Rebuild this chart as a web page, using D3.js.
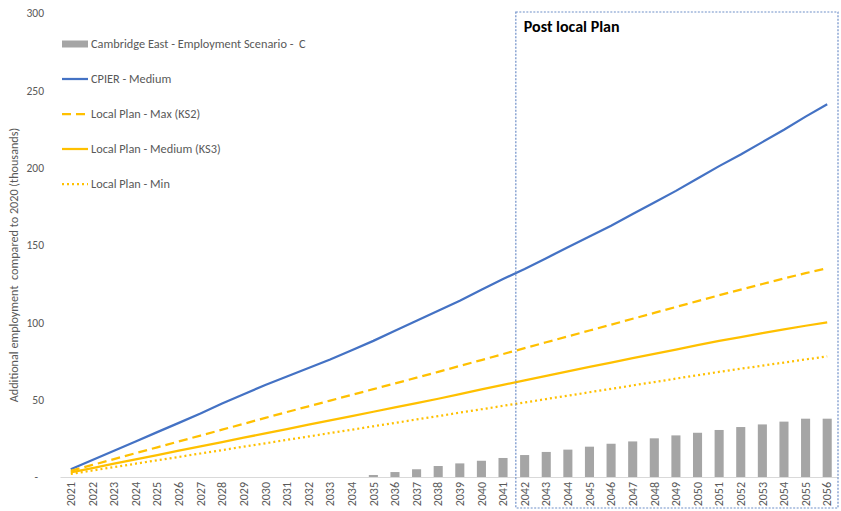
<!DOCTYPE html>
<html>
<head>
<meta charset="utf-8">
<script src="https://cdn.jsdelivr.net/npm/d3@7"></script>
<style>
  body { margin: 0; background: #fff; }
  text { font-family: Calibri, Carlito, "Liberation Sans", "Open Sans", sans-serif; white-space: pre; }
</style>
</head>
<body>
<div id="chart"></div>
<script>
// years on the x axis
const years = d3.range(2021, 2057).map(String);

// Cambridge East - Employment Scenario - C (bars)
const cambridgeEast = [0, 0, 0, 0, 0, 0, 0, 0, 0, 0, 0, 0, 0, 0,
    1.3, 3.2, 5.0, 7.1, 8.8, 10.5, 12.3, 14.2, 16.2, 17.7, 19.6, 21.5,
    23.0, 25.0, 26.9, 28.6, 30.4, 32.3, 34.0, 35.8, 37.7, 37.7];

// CPIER - Medium
const cpierMedium = [5, 11, 17, 23, 29, 35, 41, 47.5, 53.5, 59.5, 65, 70.5, 76, 82, 88, 94.5,
    101, 107.5, 114, 121, 128, 134.5, 141.5, 148.5, 155.5, 162.5, 170, 177.5, 185, 193,
    201, 208.5, 216.5, 224.5, 233, 241];

// Local Plan - Max (KS2)
const planMax = [4, 7.8, 11.6, 15.4, 19.2, 23, 26.8, 30.6, 34.4, 38.2, 42, 45.7, 49.4, 53.1,
    56.8, 60.5, 64.2, 68, 71.8, 75.6, 79.5, 83.3, 87.1, 90.9, 94.7, 98.5, 102.3, 106.1,
    109.9, 113.7, 117.5, 121.2, 124.8, 128.4, 131.8, 135];

// Local Plan - Medium (KS3)
const planMedium = [3, 5.8, 8.6, 11.4, 14.2, 17, 19.8, 22.6, 25.4, 28.2, 31, 33.8, 36.6, 39.4,
    42.2, 45, 47.8, 50.6, 53.6, 56.6, 59.6, 62.5, 65.4, 68.3, 71.2, 74, 76.8, 79.6,
    82.4, 85.2, 88, 90.5, 93, 95.4, 97.8, 100];

// Local Plan - Min
const planMin = [2, 4.2, 6.4, 8.6, 10.8, 13, 15.2, 17.4, 19.6, 21.8, 24, 26.2, 28.4, 30.6,
    32.8, 35, 37.2, 39.4, 41.6, 43.8, 46, 48.2, 50.4, 52.6, 54.8, 57, 59.2, 61.4,
    63.6, 65.8, 68, 70, 72, 74, 76, 78];

const yTicks = [0, 50, 100, 150, 200, 250, 300];

const lineSeries = [
    {name: "CPIER - Medium", values: cpierMedium, color: "#4472C4", dash: null},
    {name: "Local Plan - Max (KS2)", values: planMax, color: "#FFC000", dash: "9,5"},
    {name: "Local Plan - Medium (KS3)", values: planMedium, color: "#FFC000", dash: null},
    {name: "Local Plan - Min", values: planMin, color: "#FFC000", dash: "2,3"}
];

const width = 841, height = 511;
const margin = {top: 13, right: 3, bottom: 34, left: 60};

const svg = d3.select("#chart").append("svg")
    .attr("width", width)
    .attr("height", height);

// scales
const x = d3.scaleBand()
    .domain(years)
    .range([margin.left, width - margin.right])
    .paddingInner(0.58)
    .paddingOuter(0.29);

const y = d3.scaleLinear()
    .domain([0, 300])
    .range([height - margin.bottom, margin.top]);

// y axis labels (no line)
const yAxis = svg.append("g")
    .attr("transform", "translate(" + (margin.left - 13) + ",0)")
    .call(d3.axisLeft(y).tickValues(yTicks).tickSize(0)
        .tickFormat(d => d === 0 ? "-" : d));
yAxis.select(".domain").remove();
yAxis.selectAll("text")
    .attr("fill", "#595959")
    .style("font-size", "11.5px")
    .attr("dx", d => d === 0 ? "-6" : "0");

// y axis title
svg.append("text")
    .attr("transform", "translate(18,265) rotate(-90)")
    .attr("text-anchor", "middle")
    .attr("fill", "#595959")
    .style("font-size", "12.2px")
    .text("Additional employment  compared to 2020 (thousands)");

// bars
svg.append("g")
    .selectAll("rect")
    .data(cambridgeEast)
    .enter().append("rect")
    .attr("x", (d, i) => x(years[i]))
    .attr("y", d => y(d))
    .attr("width", x.bandwidth())
    .attr("height", d => y(0) - y(d))
    .attr("fill", "#A5A5A5");

// x axis
const xAxis = svg.append("g")
    .attr("transform", "translate(0," + y(0) + ")")
    .call(d3.axisBottom(x).tickSize(0).tickSizeOuter(0));
xAxis.select(".domain").attr("stroke", "#D9D9D9").attr("stroke-width", 1.2);
xAxis.selectAll("text")
    .attr("fill", "#595959")
    .style("font-size", "12px")
    .attr("transform", "rotate(-90)")
    .attr("text-anchor", "end")
    .attr("x", -5)
    .attr("y", 0)
    .attr("dy", "0.35em");

// lines
const line = d3.line()
    .x((d, i) => x(years[i]) + x.bandwidth() / 2)
    .y(d => y(d));

svg.append("g")
    .selectAll("path")
    .data(lineSeries)
    .enter().append("path")
    .attr("d", d => line(d.values))
    .attr("fill", "none")
    .attr("stroke", d => d.color)
    .attr("stroke-width", 2.25)
    .attr("stroke-dasharray", d => d.dash);

// post local plan box
const boxLeft = x("2042") - (x.step() - x.bandwidth()) / 2 + 2;
svg.append("rect")
    .attr("x", boxLeft)
    .attr("y", 12)
    .attr("width", width - 3 - boxLeft)
    .attr("height", 496)
    .attr("fill", "none")
    .attr("stroke", "#6F8FC8")
    .attr("stroke-width", 1.2)
    .attr("stroke-dasharray", "2,1.5");

svg.append("text")
    .attr("x", boxLeft + 8)
    .attr("y", 32)
    .style("font-size", "16px")
    .style("font-weight", "bold")
    .attr("fill", "#000")
    .text("Post local Plan");

// legend
const legend = svg.append("g");
const legendItems = [{name: "Cambridge East - Employment Scenario -  C", bar: true}]
    .concat(lineSeries);

legendItems.forEach(function (d, i) {
    const ly = 44 + i * 35;
    if (d.bar) {
        legend.append("rect")
            .attr("x", 62).attr("y", ly - 3.5)
            .attr("width", 26).attr("height", 7)
            .attr("fill", "#A5A5A5");
    } else {
        legend.append("line")
            .attr("x1", 62).attr("x2", 88)
            .attr("y1", ly).attr("y2", ly)
            .attr("stroke", d.color)
            .attr("stroke-width", 2.25)
            .attr("stroke-dasharray", d.dash);
    }
    legend.append("text")
        .attr("x", 91)
        .attr("y", ly)
        .attr("dy", "0.35em")
        .attr("fill", "#595959")
        .style("font-size", "12.3px")
        .text(d.name);
});
</script>
</body>
</html>
